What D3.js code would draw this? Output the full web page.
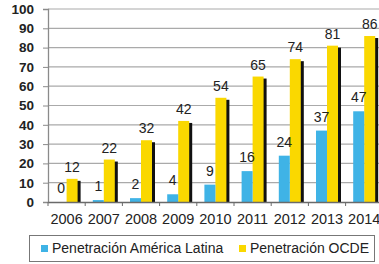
<!DOCTYPE html>
<html><head><meta charset="utf-8">
<script src="https://cdn.jsdelivr.net/npm/d3@7"></script>
<style>body{margin:0;background:#fff}svg{display:block}</style>
</head><body>
<script>
const years = ["2006","2007","2008","2009","2010","2011","2012","2013","2014"];
const latam = [0,1,2,4,9,16,24,37,47];
const ocde = [12,22,32,42,54,65,74,81,86];
const yTicks = [0,10,20,30,40,50,60,70,80,90,100];
const seriesNames = ["Penetración América Latina","Penetración OCDE"];
const colors = ["#3fb3e6","#fad800"];

const W=379,H=264;
const svg=d3.select("body").append("svg").attr("width",W).attr("height",H);
const x0=48, step=37.2;
const x=d3.scaleBand().domain(years).range([x0,x0+step*years.length]).padding(0);
const y=d3.scaleLinear().domain([0,100]).range([202,9]);
const bw=11;
const font="Liberation Sans, Arial, sans-serif";

// gridlines
svg.append("g").selectAll("line").data(yTicks.slice(1)).join("line")
 .attr("x1",x0).attr("x2",W).attr("y1",d=>y(d)).attr("y2",d=>y(d))
 .attr("stroke","#aaaaaa").attr("stroke-width",1.2);

// y axis
const ya=svg.append("g").attr("transform",`translate(${x0},0)`)
 .call(d3.axisLeft(y).tickValues(yTicks).tickSize(5).tickPadding(9));
ya.select(".domain").attr("stroke","#8a8a8a").attr("stroke-width",1.3);
ya.selectAll(".tick line").attr("stroke","#8a8a8a");
ya.selectAll("text").attr("font-family",font).attr("font-size",13.5).attr("font-weight","bold").attr("fill","#222");

// bars
const g=svg.append("g");
years.forEach((yr,i)=>{
  const c=x(yr)+x.bandwidth()/2;
  g.append("rect").attr("x",c+3).attr("y",y(ocde[i])+2).attr("width",bw)
   .attr("height",y(0)-y(ocde[i])-2).attr("fill","#111");
  g.append("rect").attr("x",c).attr("y",y(ocde[i])).attr("width",bw)
   .attr("height",y(0)-y(ocde[i])).attr("fill",colors[1]);
  g.append("rect").attr("x",c-bw).attr("y",y(latam[i])).attr("width",bw)
   .attr("height",Math.max(0,y(0)-y(latam[i]))).attr("fill",colors[0]);
  g.append("text").attr("x",c+bw/2).attr("y",y(ocde[i])-7).attr("text-anchor","middle")
   .attr("font-family",font).attr("font-size",14).attr("fill","#222").text(ocde[i]);
  g.append("text").attr("x",c-bw/2).attr("y",y(latam[i])-9).attr("text-anchor","middle")
   .attr("font-family",font).attr("font-size",14).attr("fill","#222").text(latam[i]);
});

// x axis
const xa=svg.append("g").attr("transform",`translate(0,${y(0)})`)
 .call(d3.axisBottom(x).tickSize(0).tickPadding(12));
xa.select(".domain").attr("stroke","#6a6a6a").attr("stroke-width",1.3);
xa.selectAll("text").attr("font-family",font).attr("font-size",14.5).attr("fill","#222");
svg.append("g").selectAll("line").data(d3.range(years.length+1)).join("line")
 .attr("x1",i=>x0+i*step).attr("x2",i=>x0+i*step).attr("y1",y(0)).attr("y2",y(0)+4)
 .attr("stroke","#6a6a6a");

// legend
svg.append("rect").attr("x",29.5).attr("y",235.5).attr("width",345).attr("height",26)
 .attr("fill","#fff").attr("stroke","#777");
const lx=[41,239];
seriesNames.forEach((n,i)=>{
  svg.append("rect").attr("x",lx[i]).attr("y",245).attr("width",7).attr("height",7).attr("fill",colors[i]);
  svg.append("text").attr("x",lx[i]+11).attr("y",253).attr("font-family",font).attr("font-size",14)
   .attr("fill","#222").text(n);
});
</script>
</body></html>
